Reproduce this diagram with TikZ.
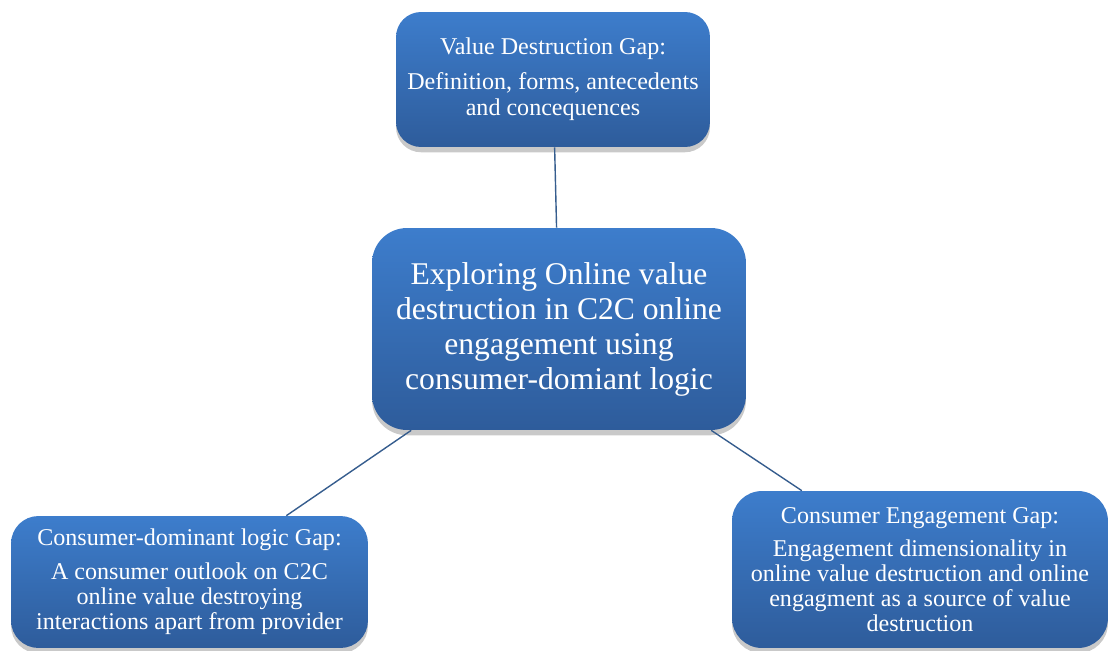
\documentclass[tikz,border=0pt]{standalone}
\usepackage{fontspec}
\setmainfont{Liberation Serif}
\usetikzlibrary{shadows}
\definecolor{boxtop}{HTML}{3D7DCC}
\definecolor{boxbot}{HTML}{2E5C9B}
\definecolor{linkblue}{HTML}{365D8E}

\begin{document}
\begin{tikzpicture}[x=0.02cm,y=-0.02cm]
\tikzstyle{gap}=[draw=none,top color=boxtop,bottom color=boxbot,text=white,
  align=center,inner sep=0pt,rounded corners=0.5cm,
  drop shadow={shadow xshift=0pt,shadow yshift=-3pt,opacity=0.3,fill=black!70}]
\tikzstyle{link}=[draw=linkblue,line width=0.8pt]
\useasboundingbox (0,0) rectangle (1110,650);

%% nodes

\node[gap,minimum width=6.28cm,minimum height=2.7cm,font=\fontsize{13.7}{14.8}\selectfont]
  (vd) at (553,79.5) {Value Destruction Gap:\\[5pt]Definition, forms, antecedents\\and concequences};
\node[gap,minimum width=7.48cm,minimum height=4.04cm,rounded corners=0.7cm,
  font=\fontsize{18}{19.9}\selectfont]
  (main) at (559,329) {Exploring Online value\\destruction in C2C online\\engagement using\\consumer-domiant logic};
\node[gap,minimum width=7.14cm,minimum height=2.64cm,rounded corners=0.55cm,
  font=\fontsize{13.7}{14.2}\selectfont]
  (cdl) at (189.5,582) {Consumer-dominant logic Gap:\\[5pt]A consumer outlook on C2C\\online value destroying\\interactions apart from provider};
\node[gap,minimum width=7.52cm,minimum height=3.14cm,rounded corners=0.6cm,
  font=\fontsize{13.7}{14.2}\selectfont]
  (ce) at (920,569.5) {Consumer Engagement Gap:\\[5pt]Engagement dimensionality in\\online value destruction and online\\engagment as a source of value\\destruction};

%% connections

\path[link] (vd) -- (main);
\path[link] (main) -- (cdl);
\path[link] (main) -- (ce);
\end{tikzpicture}
\end{document}
